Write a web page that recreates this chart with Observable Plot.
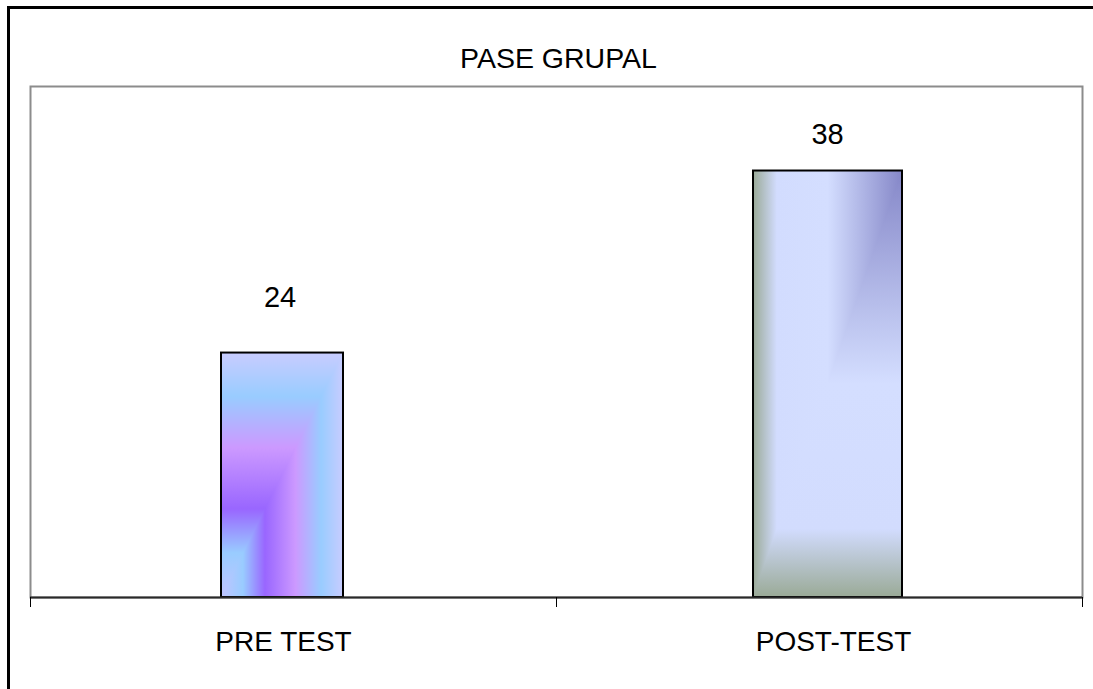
<!DOCTYPE html>
<html>
<head>
<meta charset="utf-8">
<script src="https://cdn.jsdelivr.net/npm/d3@7"></script>
<script src="https://cdn.jsdelivr.net/npm/@observablehq/plot@0.6"></script>
<style>
  html, body { margin: 0; padding: 0; background: #fff; overflow: hidden; }
  #chart { position: absolute; left: 0; top: 0; }
  #border { position: absolute; left: 7px; top: 6px; width: 1300px; height: 900px;
            border: 3px solid #000; box-sizing: border-box; pointer-events: none; }
</style>
</head>
<body>
<svg id="defs" width="0" height="0" style="position:absolute"></svg>
<div id="chart"></div>
<div id="border"></div>
<script>
// ---- data ----
const title = "PASE GRUPAL";
const categories = ["PRE TEST", "POST-TEST"];
const values = [24, 38];
const valueLabels = ["24", "38"];
const yDomain = [5.2, 44.5];

// ---- styles (gradient fills) ----
const fills = [
  {id: "preFill", first: "V", stops: [[0, "#c0c4ff"], [0.18, "#99ccff"], [0.36, "#9966ff"], [0.61, "#cc99ff"], [0.82, "#99ccff"], [1, "#c8ccff"]]},
  {id: "postFill", first: "H", stops: [[0, "#9aaa97"], [0.16, "#d2dcfe"], [0.5, "#d4deff"], [1, "#8587c8"]]}
];
const defs = d3.select("#defs").append("defs");
fills.forEach(f => {
  const mk = (suffix, x1, y1, x2, y2) => {
    const g = defs.append("linearGradient").attr("id", f.id + suffix)
      .attr("x1", x1).attr("y1", y1).attr("x2", x2).attr("y2", y2);
    f.stops.forEach(([o, c]) => g.append("stop").attr("offset", o).attr("stop-color", c));
  };
  mk("V", 0, 1, 0, 0);
  mk("H", 0, 0, 1, 0);
  const second = f.first === "V" ? "H" : "V";
  const p = defs.append("pattern").attr("id", f.id)
    .attr("patternContentUnits", "objectBoundingBox").attr("width", 1).attr("height", 1);
  p.append("rect").attr("width", 1).attr("height", 1).attr("fill", `url(#${f.id}${f.first})`);
  p.append("polygon").attr("points", "1,0 1,1 0,1").attr("fill", `url(#${f.id}${second})`);
});

const data = categories.map((c, i) => ({i, category: c, value: values[i], label: valueLabels[i]}));

// per-bar layout (pixels)
const layout = [
  {insetLeft: 191, insetRight: 213, labelDx: -13.5, labelDy: -46.5, catDx: -10},
  {insetLeft: 197, insetRight: 180, labelDx: 8, labelDy: -27.5, catDx: 14}
];
const font = "'Liberation Sans', Arial, sans-serif";

const marks = [Plot.frame({stroke: "#8c8c8c", strokeWidth: 2})];
data.forEach((d, k) => {
  const L = layout[k];
  marks.push(
    Plot.rectY([d], {x1: "i", x2: v => v.i + 1, y1: () => yDomain[0], y2: "value",
      fill: `url(#${fills[k].id})`, stroke: "#000", strokeWidth: 2,
      insetLeft: L.insetLeft, insetRight: L.insetRight}),
    Plot.text([d], {x: v => v.i + 0.5, y: "value", text: "label", lineAnchor: "bottom",
      dx: L.labelDx, dy: L.labelDy, fontSize: 29, fill: "#000"}),
    Plot.text([d], {x: v => v.i + 0.5, frameAnchor: "bottom", text: "category", lineAnchor: "bottom",
      dx: L.catDx, dy: 53, fontSize: 28, fill: "#000"})
  );
});
marks.push(
  Plot.ruleY([yDomain[0]], {stroke: "#2a2a2a", strokeWidth: 2}),
  Plot.axisX({ticks: d3.range(categories.length + 1), tickSize: 10, tickFormat: () => "", label: null, stroke: "#000"}),
  Plot.text([title], {frameAnchor: "top", text: d => d, lineAnchor: "bottom", dy: -19, dx: 2, fontSize: 28.5, fill: "#000"})
);

const chart = Plot.plot({
  width: 1093,
  height: 689,
  marginLeft: 30,
  marginRight: 11,
  marginTop: 86,
  marginBottom: 92,
  x: {type: "linear", domain: [0, categories.length], label: null},
  y: {domain: yDomain, axis: null, label: null},
  style: {fontFamily: font, background: "transparent", color: "#000"},
  marks
});
document.getElementById("chart").appendChild(chart);
</script>
</body>
</html>
